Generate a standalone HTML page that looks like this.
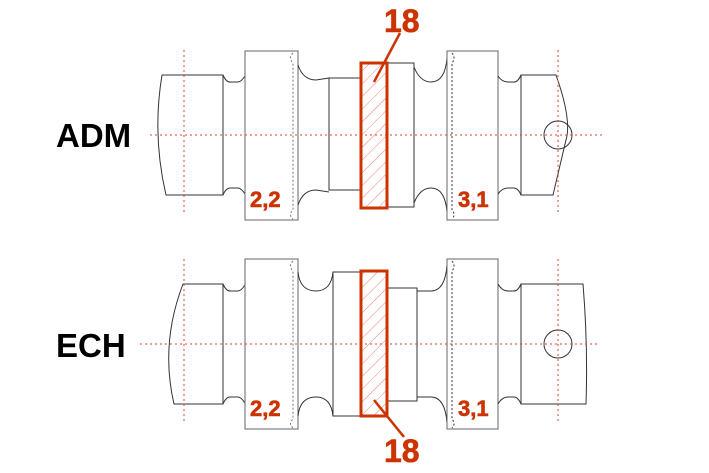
<!DOCTYPE html>
<html><head><meta charset="utf-8"><style>
html,body{margin:0;padding:0;background:#fff;}
svg{display:block;}
text{font-family:"Liberation Sans",Arial,sans-serif;font-weight:bold;}
</style></head><body>
<svg width="709" height="473" viewBox="0 0 709 473" xmlns="http://www.w3.org/2000/svg">
<defs>
<pattern id="h" width="9" height="9" patternUnits="userSpaceOnUse" patternTransform="rotate(45)">
<line x1="0" y1="0" x2="0" y2="9" stroke="#f08070" stroke-width="1"/>
</pattern>
</defs>
<g fill="none" stroke="#333" stroke-width="1">
<!-- TOP -->
<path d="M162,75 L223,75 L223,195 L166,195 Q152,135 162,75 Z"/>
<path d="M223,75 Q226,82 230,82 L238,82 Q241,82 245,76"/>
<path d="M223,195 Q226,188 230,188 L238,188 Q241,188 245,194"/>
<rect x="245" y="51" width="53" height="169" stroke="#666"/>
<path d="M293,53 Q288,58 293,63 L293,210 Q288,215 293,219" stroke="#777" stroke-dasharray="2,2"/>
<path d="M298,65 Q303,80 316,80 L329,78"/>
<path d="M298,205 Q303,190 316,190 L329,192"/>
<rect x="329" y="78" width="31" height="112"/>
<rect x="388" y="63" width="26" height="144"/>
<path d="M414,67 Q420,82 431,82 Q445,82 447,58"/>
<path d="M414,203 Q420,188 431,188 Q445,188 447,212"/>
<rect x="447" y="51" width="51" height="169" stroke="#666"/>
<path d="M452,53 Q456,58 452,63 L452,210 Q456,215 452,219" stroke="#333" stroke-dasharray="2,2"/>
<path d="M498,76 Q502,82 508,82 L514,82 Q518,82 521,75"/>
<path d="M498,194 Q502,188 508,188 L514,188 Q518,188 521,195"/>
<path d="M521,75 L556,75 Q572,120 566,140 Q560,165 553,195 L521,195 Z"/>
<circle cx="558" cy="135" r="14"/>
<!-- BOTTOM -->
<path d="M183,284 L223,284 L223,404 L174,404 Q160,344 183,284 Z"/>
<path d="M223,284 Q226,291 230,291 L238,291 Q241,291 245,285"/>
<path d="M223,404 Q226,397 230,397 L238,397 Q241,397 245,403"/>
<rect x="245" y="259" width="53" height="170" stroke="#666"/>
<path d="M293,261 Q288,266 293,271 L293,419 Q288,424 293,428" stroke="#777" stroke-dasharray="2,2"/>
<path d="M298,272 Q300,291 316,291 Q331,291 333,272"/>
<path d="M298,416 Q300,397 316,397 Q331,397 333,416"/>
<rect x="333" y="272" width="27" height="144"/>
<rect x="388" y="288" width="29" height="113"/>
<path d="M417,291 L431,291 Q445,291 447,265"/>
<path d="M417,397 L431,397 Q445,397 447,423"/>
<rect x="447" y="259" width="51" height="170" stroke="#666"/>
<path d="M452,261 Q456,266 452,271 L452,419 Q456,424 452,428" stroke="#333" stroke-dasharray="2,2"/>
<path d="M498,284 Q502,291 508,291 L514,291 Q518,291 521,284"/>
<path d="M498,404 Q502,397 508,397 L514,397 Q518,397 521,404"/>
<path d="M521,284 L583,284 Q588,344 586,404 L521,404 Z"/>
<circle cx="558" cy="344" r="14"/>
</g>
<g stroke="#e04030" stroke-width="1" stroke-dasharray="2,3" fill="none">
<line x1="150" y1="135" x2="605" y2="135"/>
<line x1="184" y1="50" x2="184" y2="212"/>
<line x1="558" y1="50" x2="558" y2="215"/>
<line x1="140" y1="344" x2="600" y2="344"/>
<line x1="184" y1="259" x2="184" y2="424"/>
<line x1="558" y1="259" x2="558" y2="424"/>
</g>
<g stroke="#cc3300">
<rect x="361" y="63" width="26" height="145" fill="url(#h)" stroke-width="3"/>
<rect x="361" y="271" width="26" height="145" fill="url(#h)" stroke-width="3"/>
<line x1="400" y1="33" x2="374" y2="82" stroke-width="2.5"/>
<line x1="374" y1="400" x2="404" y2="437" stroke-width="2.5"/>
</g>
<g fill="#cc3300" stroke="#cc3300" stroke-width="0.6">
<text x="384" y="32" font-size="32">18</text>
<text x="384" y="462" font-size="32">18</text>
<text x="250" y="207" font-size="22">2,2</text>
<text x="458" y="207" font-size="22">3,1</text>
<text x="250" y="416" font-size="22">2,2</text>
<text x="458" y="416" font-size="22">3,1</text>
</g>
<text x="56" y="147" font-size="33" fill="#000">ADM</text>
<text x="56" y="357" font-size="33" fill="#000">ECH</text>
</svg>
</body></html>
